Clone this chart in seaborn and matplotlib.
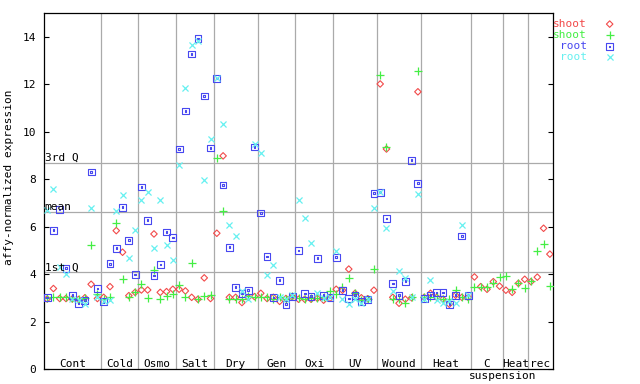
import numpy as np
import pandas as pd
import matplotlib
matplotlib.use("Agg")
import matplotlib.pyplot as plt
from matplotlib.path import Path
import seaborn as sns

# ---------------- data ----------------
groups = ["Cont", "Cold", "Osmo", "Salt", "Dry", "Gen", "Oxi", "UV",
          "Wound", "Heat", "C", "Heat", "rec"]
group_sizes = [9, 6, 6, 6, 7, 6, 6, 7, 7, 8, 5, 4, 4]
sub_caption = "suspension"

series_labels = ["shoot", "shoot", "root", "root"]

shoot_a = [2.95, 3.39, 2.97, 2.97, 2.95, 2.93, 3.00, 3.57, 2.97,
           3.02, 3.47, 5.83, 4.92, 3.09, 3.23,
           3.33, 3.33, 5.69, 3.23, 3.26, 3.36,
           3.36, 3.29, 3.02, 2.94, 3.84, 2.97,
           5.72, 8.98, 3.02, 3.02, 2.80, 3.02, 3.05,
           3.19, 2.97, 3.02, 2.85, 2.97, 3.05,
           2.94, 2.94, 2.94, 2.98, 2.90, 2.98,
           3.36, 3.32, 4.21, 3.19, 3.00, 2.96, 3.32,
           12.01, 9.27, 3.02, 2.77, 2.94, 3.00, 11.68,
           3.02, 3.19, 3.02, 2.94, 2.73, 3.11, 3.02, 3.02,
           3.88, 3.47, 3.36, 3.68, 3.49,
           3.32, 3.23, 3.61, 3.78,
           3.68, 3.87, 5.93, 4.84]

shoot_b = [3.00, 3.02, 3.05, 3.02, 3.00, 2.97, 3.00, 5.22, 3.16,
           2.97, 3.05, 6.15, 3.79, 3.05, 3.23,
           3.58, 2.98, 4.18, 2.94, 3.08, 3.15,
           3.53, 3.02, 4.46, 2.97, 3.08, 3.11,
           8.88, 6.65, 2.94, 2.97, 2.94, 3.08, 3.02,
           3.02, 3.02, 2.97, 3.02, 2.95, 3.08,
           2.98, 2.94, 2.99, 2.98, 3.05, 3.27,
           3.15, 3.44, 3.82, 3.19, 2.90, 2.96, 4.21,
           12.39, 9.35, 2.94, 2.94, 2.77, 3.02, 12.55,
           3.02, 3.02, 3.07, 2.94, 2.94, 3.32, 3.02, 2.94,
           3.46, 3.46, 3.47, 3.63, 3.88,
           3.91, 3.36, 3.61, 3.40,
           3.70, 4.97, 5.26, 3.50]

root_a = [3.02, 5.85, 6.71, 4.25, 3.11, 2.77, 2.90, 8.30, 3.40,
          2.83, 4.43, 5.09, 6.82, 5.43, 3.99,
          7.67, 6.27, 3.95, 4.41, 5.77, 5.55,
          9.27, 10.87, 13.27, 13.93, 11.50, 9.31,
          12.24, 7.75, 5.13, 3.45, 3.19, 3.32, 9.35,
          6.57, 4.75, 3.02, 3.74, 2.73, 3.07,
          5.00, 3.19, 3.07, 4.67, 3.11, 3.02,
          4.71, 3.32, 2.98, 3.11, 2.85, 2.94, 7.41,
          7.45, 6.35, 3.61, 3.11, 3.70, 8.80, 7.83,
          2.97, 3.11, 3.23, 3.23, 2.73, 3.11, 5.60, 3.11] + [np.nan] * 13

root_b = [6.71, 7.59, 4.29, 4.00, 2.97, 2.90, 2.74, 6.78, 3.02,
          2.85, 2.91, 6.65, 7.33, 4.67, 5.85,
          7.11, 7.45, 5.09, 7.11, 5.22, 4.59,
          8.59, 11.84, 13.65, 13.82, 7.96, 9.69,
          12.28, 10.32, 6.05, 5.60, 3.28, 2.97, 9.48,
          9.10, 3.95, 4.37, 3.02, 2.95, 3.10,
          7.11, 6.35, 5.30, 3.19, 3.00, 3.05,
          4.96, 2.94, 2.73, 2.95, 2.77, 2.94, 6.78,
          7.47, 5.93, 3.28, 4.12, 3.85, 3.02, 7.38,
          2.97, 3.74, 2.90, 2.77, 2.85, 2.77, 6.06, 3.11] + [np.nan] * 13

stat_labels = ["3rd Q", "mean", "1st Q"]
stat_values = [8.675, 6.61, 4.08]

y_ticks = [0, 2, 4, 6, 8, 10, 12, 14]
y_label = "affy-normalized expression"

# ---------------- styling ----------------
sns.set_theme(style="white")
plt.rcParams['font.family'] = ['DejaVu Sans Mono', 'DejaVu Sans']
FS = 8

colors = ["#f24a4a", "#44ee44", "#4848f0", "#66f0f0"]

sq_verts = [(-1, -1), (1, -1), (1, 1), (-1, 1), (-1, -1),
            (-0.22, -0.22), (0.22, -0.22), (0.22, 0.22), (-0.22, 0.22), (-0.22, -0.22)]
sq_codes = [Path.MOVETO, Path.LINETO, Path.LINETO, Path.LINETO, Path.CLOSEPOLY,
            Path.MOVETO, Path.LINETO, Path.LINETO, Path.LINETO, Path.CLOSEPOLY]
square_dot = Path(sq_verts, sq_codes)

markers = ["D", "+", square_dot, "x"]
sizes = [11, 26, 24, 19]

n = len(shoot_a)
sample = np.arange(n)
df = pd.concat([
    pd.DataFrame({"sample": sample, "value": vals, "series": k})
    for k, vals in enumerate([shoot_a, shoot_b, root_a, root_b])
], ignore_index=True)

fig = plt.figure(figsize=(6.4, 3.84), dpi=100)
ax = fig.add_axes([44 / 640, 15 / 384, 509 / 640, 356 / 384])

# grid lines
bounds = np.cumsum(group_sizes)
for b in bounds[:-1]:
    ax.axvline(b - 0.5, color="#aaaaaa", lw=0.9, zorder=1)
for v in stat_values:
    ax.axhline(v, color="#aaaaaa", lw=0.9, zorder=1)

for k in range(4):
    sub = df[df["series"] == k].dropna()
    kws = dict(data=sub, x="sample", y="value", marker=markers[k], s=sizes[k],
               ax=ax, zorder=3 + k, label=series_labels[k])
    if k in (0, 2):
        kws.update(facecolor="none", edgecolor=colors[k], linewidth=0.8)
    else:
        kws.update(color=colors[k], linewidth=0.9)
    sns.scatterplot(**kws)

ax.set_xlim(-0.5, n - 0.5)
ax.set_ylim(0, 15)
ax.set_xticks([])
ax.set_yticks(y_ticks)
ax.tick_params(axis="y", direction="in", length=3.6, width=0.8, left=True,
               right=True, labelsize=FS, pad=5.5, colors="black")
ax.set_xlabel("")
ax.set_ylabel(y_label, fontsize=FS, color="black")
ax.yaxis.set_label_coords(-0.058, 0.54)
for s in ax.spines.values():
    s.set_color("black")
    s.set_linewidth(0.9)

# group labels inside the axes
starts = np.concatenate([[0], bounds[:-1]])
for g, st, en in zip(groups, starts, bounds):
    ax.text((st + en - 1) / 2, 0.08, g, ha="center", va="baseline",
            fontsize=FS, color="black", zorder=6)
ax.text(bounds[10] - 0.5, -0.027, sub_caption, ha="center", va="baseline",
        fontsize=FS, color="black", transform=ax.get_xaxis_transform(),
        clip_on=False)

# stat labels
for lab, v in zip(stat_labels, stat_values):
    ax.text(-0.4, v + 0.08, lab, ha="left", va="baseline", fontsize=FS,
            color="black", zorder=6)

# legend (text first, then marker)
h, l = ax.get_legend_handles_labels()
leg = ax.legend(h, l, markerfirst=False, frameon=False, labelcolor=colors,
                fontsize=FS, loc="upper right",
                bbox_to_anchor=(618 / 640, 1 - 19 / 384),
                bbox_transform=fig.transFigure, borderpad=0, borderaxespad=0,
                handlelength=1.5, handletextpad=1.3, labelspacing=0.1)

fig.savefig("out.png", dpi=100)
